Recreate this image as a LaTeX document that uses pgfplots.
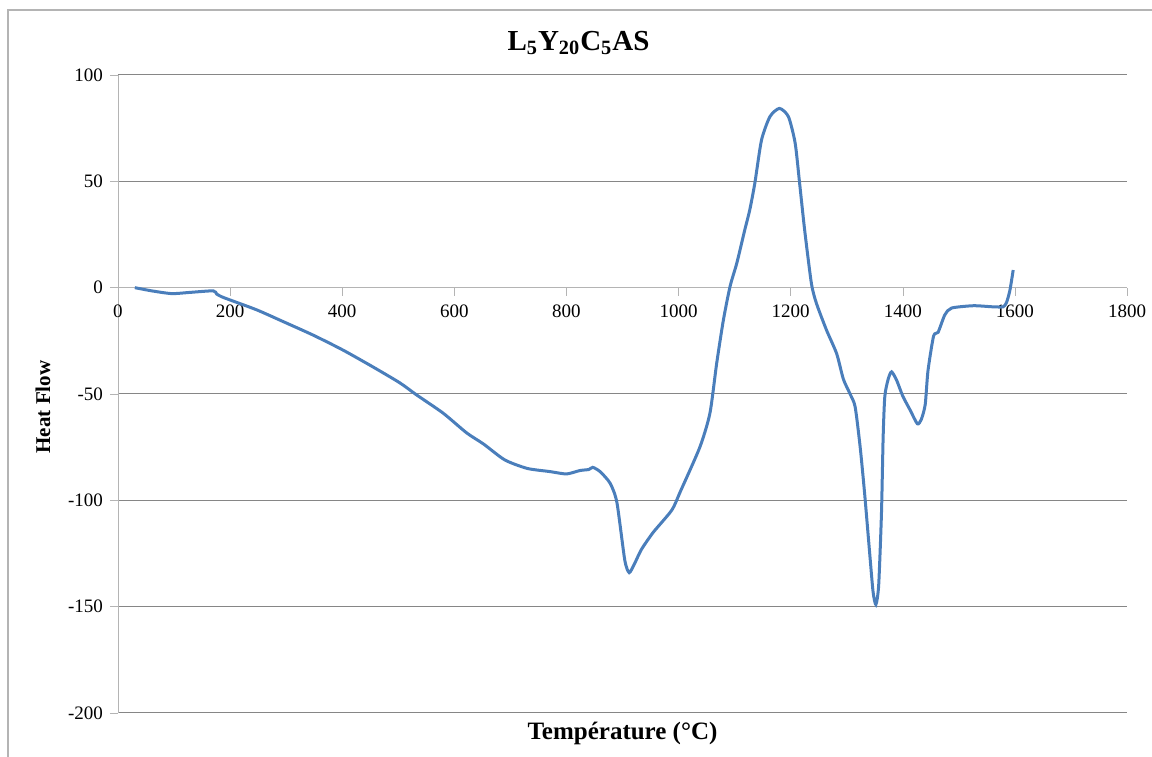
\documentclass[border=0pt]{standalone}
\usepackage{pgfplots}
\pgfplotsset{compat=1.18}
\usepackage{fontspec}
\setmainfont{Liberation Serif}

\definecolor{excelblue}{RGB}{74,126,187}
\definecolor{gridgray}{RGB}{134,134,134}
\definecolor{axisgray}{RGB}{180,180,180}

\pgfplotstableread{
T HF
30 0
60 -1.5
96 -2.8
130 -2.2
170 -1.5
176 -3
185 -4.3
200 -5.8
248 -10.5
295 -16
348 -22.3
401 -29.3
455 -37.3
503 -44.8
533 -50.5
580 -59
622 -68.3
652 -73.5
690 -81
730 -85
771 -86.5
800 -87.6
824 -86
840 -85.5
847 -84.5
860 -86.5
878 -92
890 -101
904 -128
912 -134
922 -129.5
934 -123
955 -115
988 -104.6
1003 -96
1038 -75
1056 -59
1068 -35.6
1080 -15.2
1092 0.7
1104 11.6
1118 27
1127 36.5
1136 49
1148 69.4
1163 80.4
1180 84.3
1196 80.4
1208 68
1216 49
1225 27
1237 2
1246 -7.4
1264 -20
1282 -31
1294 -43
1306 -50
1315 -56
1324 -75
1332 -97
1341 -125
1347 -143
1352 -149
1357 -140
1362 -106
1365 -70
1368 -51
1374 -43
1380 -39.6
1389 -43.5
1400 -51
1413 -57.5
1426 -64
1433 -62
1440 -55
1445 -39
1455 -22.7
1463 -21
1475 -12.8
1487 -9.6
1526 -8.5
1560 -9
1579 -9
1585 -7
1591 -1.4
1597 8.3
}\heatdata

\begin{document}
\begin{tikzpicture}
\begin{axis}[
    name=ax,
    scale only axis,
    width=504.5pt, height=319pt,
    xmin=0, xmax=1800, ymin=-200, ymax=100,
    xtick={0,200,...,1800},
    ytick={-200,-150,...,100},
    axis x line=middle,
    axis y line=left,
    hide obscured x ticks=false,
    hide obscured y ticks=false,
    axis line style={-, draw=axisgray},
    ymajorgrids,
    grid style={gridgray, line width=0.5pt},
    tick style={axisgray},
    major tick length=4pt,
    xtick align=outside, ytick align=outside,
    ticklabel style={font=\fontsize{9.5}{11}\selectfont, text=black},
    /pgf/number format/assume math mode=true,
    /pgf/number format/1000 sep={},
    x tick label style={yshift=-1pt},
    clip=false,
]
\addplot[excelblue, line width=1.5pt, smooth, tension=0.4] table[x=T, y=HF] {\heatdata};
\end{axis}
\node[font=\bfseries\fontsize{14.5}{16}\selectfont] at ([xshift=-22pt,yshift=16pt]ax.north) {L\textsubscript{5}Y\textsubscript{20}C\textsubscript{5}AS};
\node[font=\bfseries\fontsize{12.5}{14}\selectfont] at ([yshift=-10pt]ax.south) {Température (°C)};
\node[font=\bfseries\fontsize{10.5}{12}\selectfont, rotate=90] at ([xshift=-37.5pt,yshift=-6.5pt]ax.west) {Heat Flow};
\pgfresetboundingbox
\path[use as bounding box] ([xshift=-59pt,yshift=-22pt]ax.south west) rectangle ([xshift=12.5pt,yshift=37.5pt]ax.north east);
\draw[axisgray, line width=0.6pt] ([xshift=-55pt,yshift=-22pt]ax.south west) -- ([xshift=-55pt,yshift=32.5pt]ax.north west) -- ([xshift=12.5pt,yshift=32.5pt]ax.north east);
\end{tikzpicture}
\end{document}
